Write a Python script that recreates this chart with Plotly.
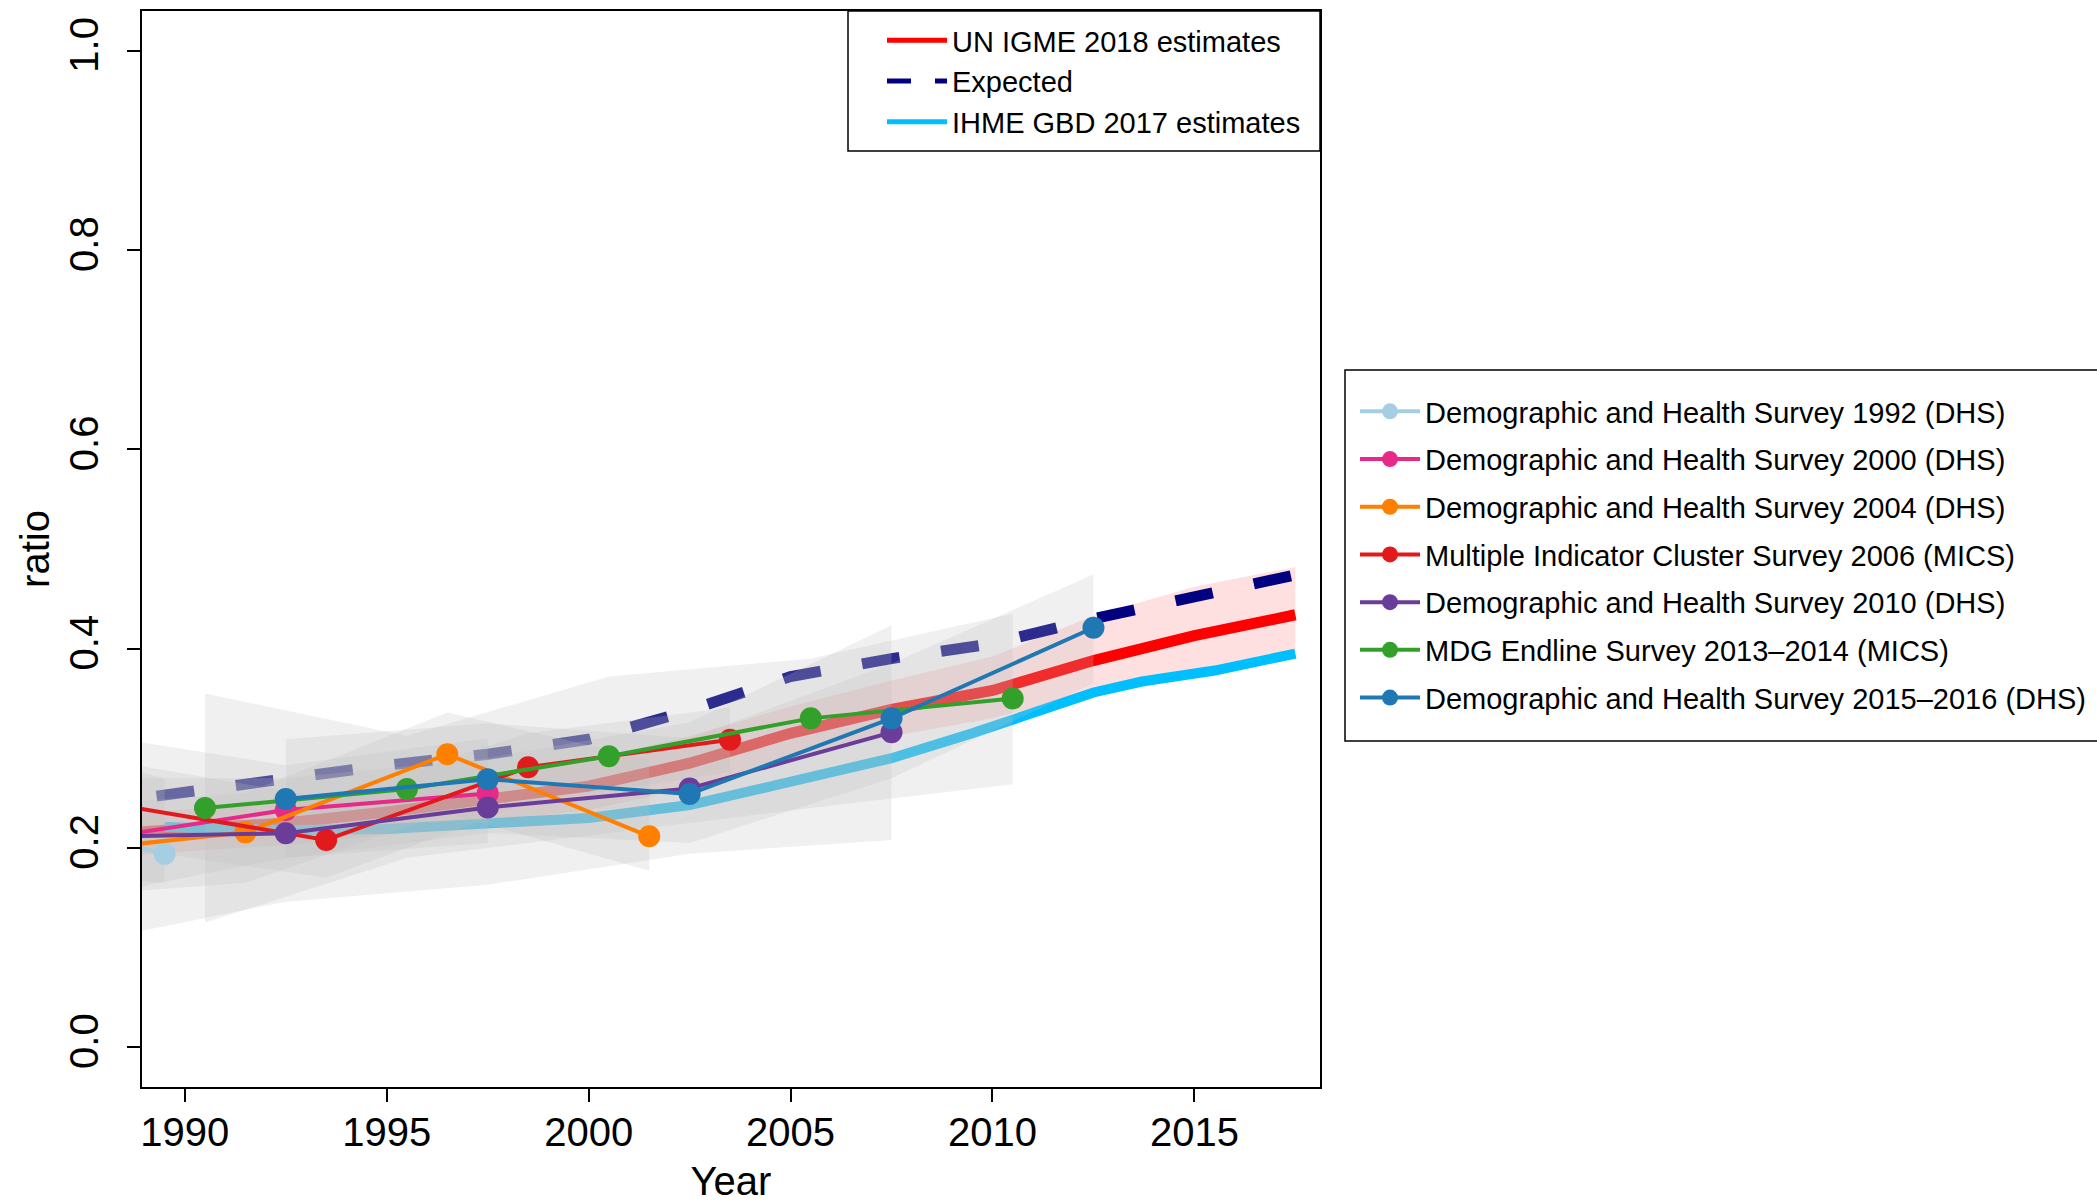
import plotly.graph_objects as go

# ---------------- data ----------------
un_years = [1988, 1989.5, 1992.5, 1995, 1997.5, 2000, 2002.5, 2005, 2007.5, 2010, 2012.5, 2015, 2017.5]
un_mid = [0.214, 0.217, 0.225, 0.236, 0.250, 0.262, 0.285, 0.315, 0.339, 0.358, 0.388, 0.413, 0.434]
un_lower = [0.190, 0.195, 0.203, 0.213, 0.226, 0.238, 0.260, 0.290, 0.312, 0.330, 0.356, 0.376, 0.392]
un_upper = [0.234, 0.237, 0.246, 0.259, 0.273, 0.288, 0.312, 0.342, 0.368, 0.392, 0.433, 0.462, 0.482]

exp_years = [1989.3, 1990, 1992.5, 1995, 1997.5, 2000, 2002.5, 2005, 2007.5, 2010, 2012.5, 2015, 2017.5]
exp_vals = [0.252, 0.256, 0.270, 0.283, 0.294, 0.309, 0.338, 0.372, 0.390, 0.405, 0.430, 0.453, 0.474]

ihme_years = [1989.5, 1992.5, 1995, 1997.5, 2000, 2002.5, 2005, 2007.5, 2009.5, 2010.5, 2012.5, 2013.7, 2015.5, 2017.5]
ihme_vals = [0.221, 0.218, 0.219, 0.224, 0.230, 0.243, 0.266, 0.290, 0.315, 0.329, 0.356, 0.367, 0.378, 0.395]

survey_names = [
    "Demographic and Health Survey 1992 (DHS)",
    "Demographic and Health Survey 2000 (DHS)",
    "Demographic and Health Survey 2004 (DHS)",
    "Multiple Indicator Cluster Survey 2006 (MICS)",
    "Demographic and Health Survey 2010 (DHS)",
    "MDG Endline Survey 2013\u20132014 (MICS)",
    "Demographic and Health Survey 2015\u20132016 (DHS)",
]
survey_colors = ["#a6cee3", "#e7298a", "#ff7f00", "#e31a1c", "#6a3d9a", "#33a02c", "#1f78b4"]

dhs1992_x = [1987.5, 1989.5]
dhs1992_y = [0.214, 0.194]
dhs1992_lo = [0.170, 0.165]
dhs1992_hi = [0.290, 0.270]

dhs2000_x = [1987.5, 1992.5, 1997.5]
dhs2000_y = [0.207, 0.238, 0.2547]
dhs2000_lo = [0.150, 0.190, 0.205]
dhs2000_hi = [0.315, 0.283, 0.310]

dhs2004_x = [1986.5, 1991.5, 1996.5, 2001.5]
dhs2004_y = [0.194, 0.2156, 0.294, 0.2116]
dhs2004_lo = [0.150, 0.165, 0.235, 0.177]
dhs2004_hi = [0.240, 0.255, 0.336, 0.289]

mics2006_x = [1988.5, 1993.5, 1998.5, 2003.5]
mics2006_y = [0.242, 0.208, 0.281, 0.3085]
mics2006_lo = [0.200, 0.170, 0.245, 0.276]
mics2006_hi = [0.285, 0.250, 0.315, 0.341]

dhs2010_x = [1987.5, 1992.5, 1997.5, 2002.5, 2007.5]
dhs2010_y = [0.211, 0.2146, 0.2406, 0.2597, 0.316]
dhs2010_lo = [0.105, 0.146, 0.163, 0.194, 0.208]
dhs2010_hi = [0.270, 0.270, 0.290, 0.326, 0.4234]

mdg_x = [1990.5, 1995.5, 2000.5, 2005.5, 2010.5]
mdg_y = [0.240, 0.259, 0.292, 0.330, 0.350]
mdg_lo = [0.125, 0.190, 0.215, 0.240, 0.264]
mdg_hi = [0.355, 0.3125, 0.372, 0.390, 0.435]

dhs2015_x = [1992.5, 1997.5, 2002.5, 2007.5, 2012.5]
dhs2015_y = [0.249, 0.269, 0.254, 0.330, 0.421]
dhs2015_lo = [0.1895, 0.215, 0.205, 0.270, 0.365]
dhs2015_hi = [0.309, 0.325, 0.310, 0.385, 0.4745]

surveys = [
    (dhs1992_x, dhs1992_y, dhs1992_lo, dhs1992_hi),
    (dhs2000_x, dhs2000_y, dhs2000_lo, dhs2000_hi),
    (dhs2004_x, dhs2004_y, dhs2004_lo, dhs2004_hi),
    (mics2006_x, mics2006_y, mics2006_lo, mics2006_hi),
    (dhs2010_x, dhs2010_y, dhs2010_lo, dhs2010_hi),
    (mdg_x, mdg_y, mdg_lo, mdg_hi),
    (dhs2015_x, dhs2015_y, dhs2015_lo, dhs2015_hi),
]

x_ticks = [1990, 1995, 2000, 2005, 2010, 2015]
y_ticks = [0.0, 0.2, 0.4, 0.6, 0.8, 1.0]

FONT = "Liberation Sans, Arial, Helvetica, sans-serif"
UN_RED = "#ff0000"
NAVY = "#000080"
IHME_BLUE = "#00bfff"
GRAY_FILL = "rgba(190,190,190,0.23)"

fig = go.Figure()

# UN IGME uncertainty band
fig.add_trace(go.Scatter(
    x=un_years + un_years[::-1], y=un_upper + un_lower[::-1],
    fill="toself", fillcolor="rgba(255,0,0,0.12)", line=dict(width=0),
    mode="lines", hoverinfo="skip", showlegend=False))

# main lines (drawn under survey uncertainty polygons)
fig.add_trace(go.Scatter(x=un_years, y=un_mid, mode="lines",
                         line=dict(color=UN_RED, width=11), legendgroup="un", showlegend=False))
fig.add_trace(go.Scatter(x=exp_years, y=exp_vals, mode="lines",
                         line=dict(color=NAVY, width=11, dash="38px,42px"), legendgroup="exp", showlegend=False))
fig.add_trace(go.Scatter(x=ihme_years, y=ihme_vals, mode="lines",
                         line=dict(color=IHME_BLUE, width=10), legendgroup="ihme", showlegend=False))

# survey uncertainty polygons
for (sx, sy, lo, hi) in surveys:
    fig.add_trace(go.Scatter(
        x=sx + sx[::-1], y=hi + lo[::-1], fill="toself", fillcolor=GRAY_FILL,
        line=dict(width=0), mode="lines", hoverinfo="skip", showlegend=False))

# survey series
for name, col, (sx, sy, lo, hi) in zip(survey_names, survey_colors, surveys):
    fig.add_trace(go.Scatter(
        x=sx, y=sy, mode="lines+markers", name=name,
        line=dict(color=col, width=4), marker=dict(color=col, size=22),
        cliponaxis=True, legend="legend2", legendgroup=name))

# legend 1 entries (thinner legend symbols)
fig.add_trace(go.Scatter(x=[None], y=[None], mode="lines", name="UN IGME 2018 estimates",
                         line=dict(color=UN_RED, width=5), legendgroup="un", legend="legend"))
fig.add_trace(go.Scatter(x=[None], y=[None], mode="lines", name="Expected",
                         line=dict(color=NAVY, width=5, dash="24px,24px"), legendgroup="exp", legend="legend"))
fig.add_trace(go.Scatter(x=[None], y=[None], mode="lines", name="IHME GBD 2017 estimates",
                         line=dict(color=IHME_BLUE, width=5), legendgroup="ihme", legend="legend"))

L, R, T, B = 142, 777, 11, 116
W, H = 2097, 1203
pw = W - L - R
ph = H - T - B

def px_x(p):
    return (p - L) / pw

def px_y(p):
    return (H - B - p) / ph

fig.update_layout(
    width=W, height=H,
    margin=dict(l=L, r=R, t=T, b=B, autoexpand=False),
    paper_bgcolor="white", plot_bgcolor="white",
    font=dict(family=FONT, size=29, color="black"),
    xaxis=dict(range=[1988.94, 2018.11], tickvals=x_ticks, ticks="outside", ticklen=13,
               tickwidth=1.5, tickcolor="black", showline=True, linecolor="black", linewidth=1.5,
               mirror=True, showgrid=False, zeroline=False, tickfont=dict(size=40),
               ticklabelstandoff=-4,
               title=dict(text="Year", font=dict(size=40), standoff=18)),
    yaxis=dict(range=[-0.04, 1.04], tickvals=y_ticks, tickformat=".1f", ticks="outside",
               ticklen=13, tickwidth=1.5, tickcolor="black", showline=True, linecolor="black",
               linewidth=1.5, mirror=True, showgrid=False, zeroline=False, tickangle=-90,
               tickfont=dict(size=40), ticklabelstandoff=13,
               title=dict(text="ratio", font=dict(size=40), standoff=0)),
    legend=dict(x=px_x(882), y=px_y(15), xanchor="left", yanchor="top",
                bgcolor="rgba(0,0,0,0)", borderwidth=0, font=dict(size=29),
                itemwidth=60, tracegroupgap=0),
    legend2=dict(x=px_x(1355), y=px_y(386), xanchor="left", yanchor="top",
                 bgcolor="rgba(0,0,0,0)", borderwidth=0, font=dict(size=29),
                 itemwidth=60, traceorder="grouped", tracegroupgap=7),
    shapes=[
        dict(type="rect", xref="paper", yref="paper", x0=px_x(848), x1=1.0,
             y0=px_y(151), y1=1.0, line=dict(color="black", width=1.5), fillcolor="white",
             layer="below"),
        dict(type="rect", xref="paper", yref="paper", x0=px_x(1345), x1=px_x(2120),
             y0=px_y(741), y1=px_y(370), line=dict(color="black", width=1.5)),
    ],
    showlegend=True,
)

fig.write_html("out.html", config={"displayModeBar": False},
               post_script="document.body.style.margin='0';document.body.style.overflow='hidden';")
